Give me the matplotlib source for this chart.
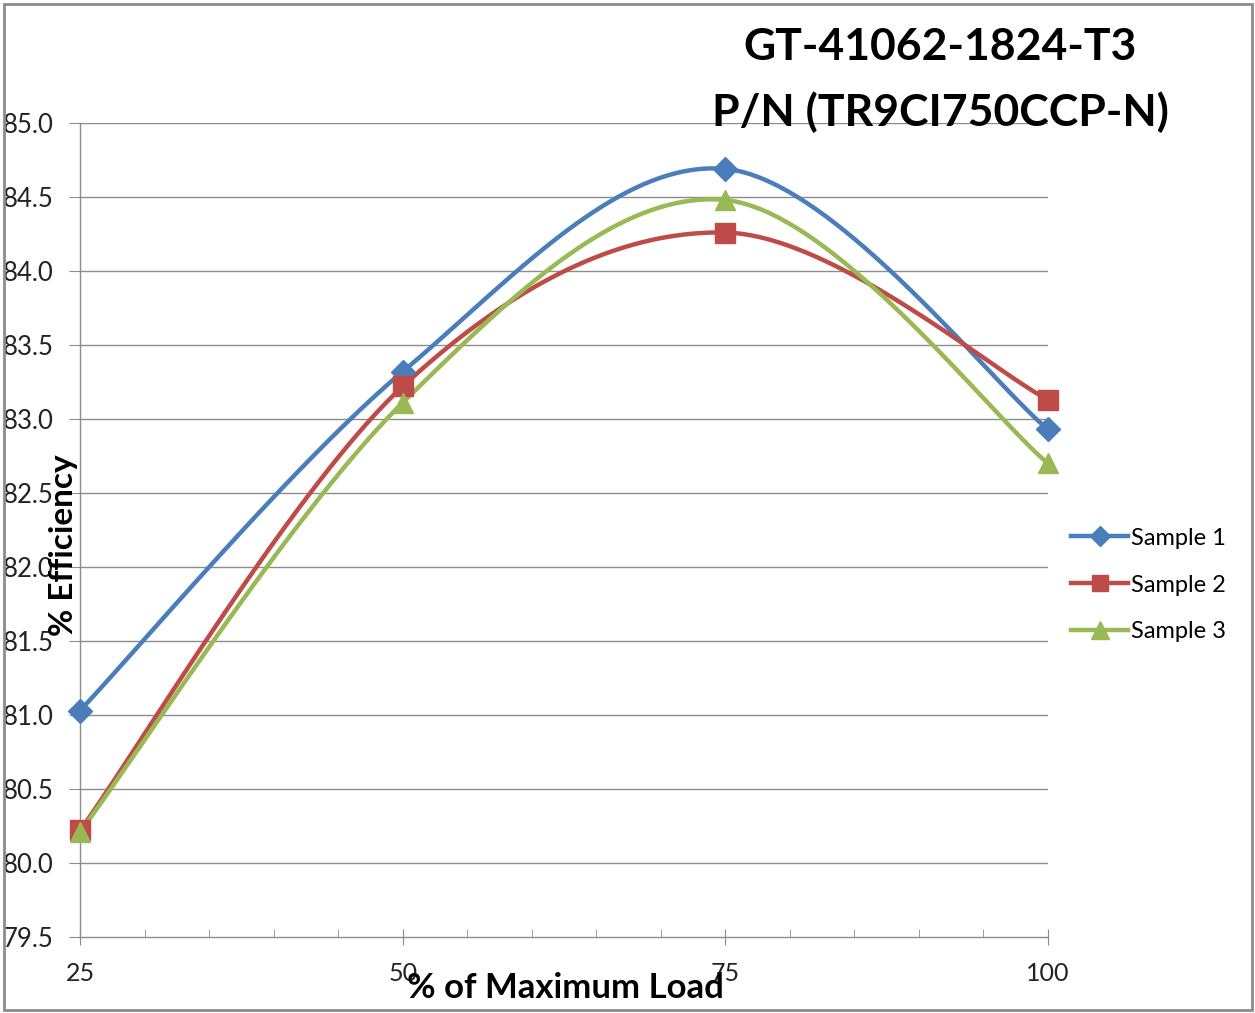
import numpy as np
import matplotlib
matplotlib.use("Agg")
import matplotlib.pyplot as plt
from matplotlib.patches import Rectangle

plt.rcParams['font.family'] = ['Lato', 'DejaVu Sans']

load = [25, 50, 75, 100]
sample1 = [81.03, 83.32, 84.69, 82.93]
sample2 = [80.22, 83.22, 84.26, 83.13]
sample3 = [80.21, 83.11, 84.48, 82.70]
series_names = ['Sample 1', 'Sample 2', 'Sample 3']
y_ticks = [79.5, 80.0, 80.5, 81.0, 81.5, 82.0, 82.5, 83.0, 83.5, 84.0, 84.5, 85.0]

colors = ['#4A7EBB', '#BE4B48', '#98B954']
markers = ['D', 's', '^']
msizes = [12, 14, 15]


def smooth(xs, ys, n=40):
    # bezier smoothing in the style of spreadsheet "smoothed line" charts
    p = np.column_stack([xs, ys]).astype(float)
    p = np.vstack([p[0], p, p[-1]])
    out = []
    t = np.linspace(0, 1, n)[:, None]
    for i in range(1, len(p) - 2):
        p0, p3 = p[i], p[i + 1]
        c1 = p0 + (p[i + 1] - p[i - 1]) / 6.0
        c2 = p3 - (p[i + 2] - p[i]) / 6.0
        seg = ((1 - t) ** 3) * p0 + 3 * ((1 - t) ** 2) * t * c1 + 3 * (1 - t) * t ** 2 * c2 + t ** 3 * p3
        out.append(seg if i == 1 else seg[1:])
    out = np.vstack(out)
    return out[:, 0], out[:, 1]


fig = plt.figure(figsize=(12.55, 10.13), dpi=100)
fig.patches.append(Rectangle((0.003, 0.003), 0.995, 0.993, transform=fig.transFigure,
                             fill=False, edgecolor='#8C8C8C', linewidth=2))

ax = fig.add_axes([80 / 1255, 1 - 937 / 1013, (1048 - 80) / 1255, (937 - 123) / 1013])
ax.set_xlim(25, 100)
ax.set_ylim(79.5, 85.0)

for v in y_ticks[1:]:
    ax.axhline(v, color='#8C8C8C', linewidth=1, zorder=1)

for ys, name, c, m, ms in zip([sample1, sample2, sample3], series_names, colors, markers, msizes):
    sx, sy = smooth(load, ys)
    ax.plot(sx, sy, color=c, linewidth=3.2, zorder=3, solid_capstyle='round', clip_on=False)
    ax.plot(load, ys, linestyle='none', marker=m, markersize=ms, color=c, zorder=4, clip_on=False)
    ax.plot([], [], color=c, linewidth=3.2, marker=m, markersize=ms - 2, label=name)

for s in ['top', 'right']:
    ax.spines[s].set_visible(False)
for s in ['left', 'bottom']:
    ax.spines[s].set_color('#8C8C8C')
    ax.spines[s].set_linewidth(1)

ax.set_xticks(load)
ax.set_xticklabels([str(v) for v in load])
ax.set_xticks(np.arange(25, 101, 5), minor=True)
ax.set_yticks(y_ticks)
ax.set_yticklabels(['%.1f' % v for v in y_ticks])
ax.tick_params(axis='x', which='major', direction='inout', length=12, color='#8C8C8C',
               labelsize=18, pad=12, labelcolor='#222222')
ax.tick_params(axis='x', which='minor', direction='in', length=6, color='#8C8C8C')
ax.tick_params(axis='y', which='major', direction='out', length=8, color='#8C8C8C',
               labelsize=18.5, pad=11, labelcolor='#222222')

fig.text(565 / 1255, 1 - 988 / 1013, '% of Maximum Load', ha='center', va='center',
         fontsize=25, fontweight='bold')
fig.text(63 / 1255, 1 - 545 / 1013, '% Efficiency', ha='center', va='center',
         fontsize=24, fontweight='bold', rotation=90)
fig.text(940 / 1255, 1 - 47 / 1013, 'GT-41062-1824-T3', ha='center', va='center',
         fontsize=32, fontweight='bold')
fig.text(940 / 1255, 1 - 112 / 1013, 'P/N (TR9CI750CCP-N)', ha='center', va='center',
         fontsize=32, fontweight='bold')

fig.legend(loc='center left', bbox_to_anchor=(1050 / 1255, 1 - 585 / 1013), frameon=False,
           fontsize=17, handlelength=2.4, handletextpad=0.15, labelspacing=1.1)

fig.savefig('out.png', dpi=100)
